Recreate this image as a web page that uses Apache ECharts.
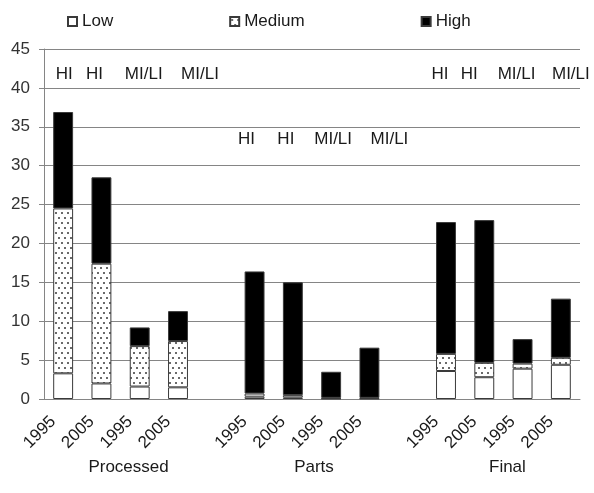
<!DOCTYPE html>
<html>
<head>
<meta charset="utf-8">
<script src="https://cdn.jsdelivr.net/npm/echarts@6/dist/echarts.min.js"></script>
<style>
html,body{margin:0;padding:0;background:#fff;}
#chart{width:594px;height:493px;}
</style>
</head>
<body>
<div id="chart"></div>
<script>
// ---- data ----
var categories = ['1995','2005','1995','2005','', '1995','2005','1995','2005','', '1995','2005','1995','2005'];
var lowValues    = [3.3, 2.0, 1.6, 1.5, null, 0.3, 0.2, 0.05, 0.05, null, 3.6, 2.8, 3.9, 4.4];
var mediumValues = [21.2, 15.4, 5.2, 5.95, null, 0.4, 0.3, 0.1, 0.1, null, 2.2, 1.85, 0.65, 0.9];
var highValues   = [12.4, 11.1, 2.4, 3.85, null, 15.7, 14.5, 3.35, 6.45, null, 16.95, 18.35, 3.15, 7.6];
var seriesNames = ['Low', 'Medium', 'High'];
var groupNames = ['Processed', 'Parts', 'Final'];
var groupStart = [0, 5, 10];
var annotationTexts = ['HI', 'HI', 'MI/LI', 'MI/LI'];
var annotationLevel = [41.8, 33.4, 41.8];

// ---- styling helpers ----
var FONT = 'Liberation Sans, Arial, sans-serif';
var TXT = '#1a1a1a';
var GRID = '#858585';

function dotPattern() {
  var c = document.createElement('canvas');
  c.width = 6; c.height = 10;
  var ctx = c.getContext('2d');
  ctx.fillStyle = '#fff';
  ctx.fillRect(0, 0, 6, 10);
  ctx.fillStyle = '#6a6a6a';
  ctx.fillRect(1, 2, 2, 2);
  ctx.fillRect(4, 7, 2, 2);
  return c;
}

var chart = echarts.init(document.getElementById('chart'), null, {renderer: 'canvas'});

var barBorder = {borderColor: '#3a3a3a', borderWidth: 1};

var option = {
  animation: false,
  backgroundColor: '#fff',
  textStyle: {fontFamily: FONT},
  legend: {
    data: seriesNames,
    left: 67,
    top: 13,
    padding: 0,
    itemWidth: 9,
    itemHeight: 9,
    itemGap: 116,
    icon: 'rect',
    textStyle: {fontSize: 17, color: TXT, fontFamily: FONT}
  },
  grid: {left: 44, right: 14, top: 49, bottom: 94, containLabel: false},
  xAxis: {
    type: 'category',
    data: categories,
    boundaryGap: true,
    axisLine: {lineStyle: {color: GRID, width: 1}},
    axisTick: {show: false},
    axisLabel: {rotate: 45, interval: 0, fontSize: 17, color: TXT, margin: 10,
      padding: [0, 14, 0, 0], fontFamily: FONT}
  },
  yAxis: {
    type: 'value',
    min: 0, max: 45, interval: 5,
    axisLine: {show: true, lineStyle: {color: GRID, width: 1}},
    axisTick: {show: true, length: 5, lineStyle: {color: GRID}},
    splitLine: {lineStyle: {color: GRID, width: 1}},
    axisLabel: {fontSize: 17, color: '#333', margin: 14, fontFamily: FONT}
  },
  series: [
    {name: 'Low', type: 'bar', stack: 's', barWidth: '52%', data: lowValues,
     itemStyle: Object.assign({color: '#ffffff'}, barBorder)},
    {name: 'Medium', type: 'bar', stack: 's', barWidth: '52%', data: mediumValues,
     itemStyle: Object.assign({color: {image: dotPattern(), repeat: 'repeat'}}, barBorder)},
    {name: 'High', type: 'bar', stack: 's', barWidth: '52%', data: highValues,
     itemStyle: Object.assign({color: '#000000'}, barBorder)}
  ]
};
chart.setOption(option);

// text annotations positioned via the chart's own scales
var annotOffsets = [[1, -7, 4, 22], [-8, -7, 2, 20], [-6, -15, -6, 10]];
var groupOffset = [8, 2, 4];
var graphics = [];
groupStart.forEach(function (s, g) {
  var yPix = chart.convertToPixel({yAxisIndex: 0}, annotationLevel[g]);
  annotationTexts.forEach(function (t, k) {
    var xPix = chart.convertToPixel({xAxisIndex: 0}, s + k) + annotOffsets[g][k];
    graphics.push({type: 'text', x: xPix, y: yPix,
      style: {text: t, font: '17px ' + FONT, fill: TXT, textAlign: 'center', textVerticalAlign: 'middle'}});
  });
  var x0 = chart.convertToPixel({xAxisIndex: 0}, s);
  var x3 = chart.convertToPixel({xAxisIndex: 0}, s + 3);
  var base = chart.convertToPixel({yAxisIndex: 0}, 0);
  graphics.push({type: 'text', x: (x0 + x3) / 2 + groupOffset[g], y: base + 68,
    style: {text: groupNames[g], font: '17px ' + FONT, fill: TXT, textAlign: 'center', textVerticalAlign: 'middle'}});
});
chart.setOption({graphic: graphics});
</script>
</body>
</html>
